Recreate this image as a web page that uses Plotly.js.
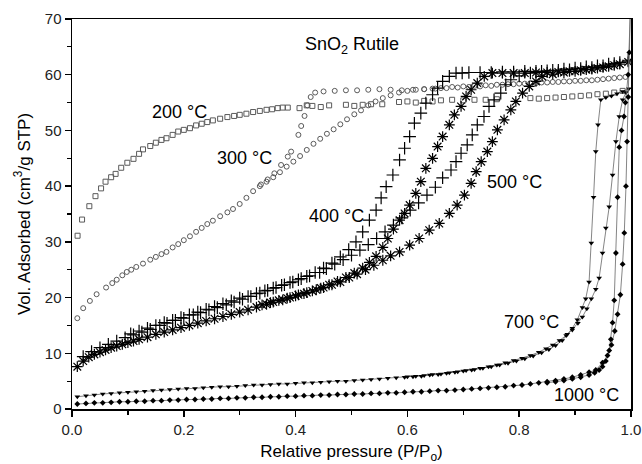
<!DOCTYPE html>
<html>
<head>
<meta charset="utf-8">
<script src="https://cdn.plot.ly/plotly-3.0.1.min.js"></script>
<style>html,body{margin:0;padding:0;background:#fff;}#chart{width:642px;height:464px;}</style>
</head>
<body>
<div id="chart"></div>
<script>
// ---- 200 °C (open squares) ----
const s200_x = [0.010,0.018,0.031,0.042,0.052,0.060,0.070,0.078,0.088,0.099,0.110,0.120,0.127,0.140,0.150,0.160,0.169,0.180,0.190,0.200,0.211,0.222,0.232,0.242,0.252,0.265,0.278,0.290,0.300,0.312,0.324,0.336,0.348,0.358,0.368,0.377,0.386,0.407,0.420,0.430,0.445,0.460,0.490,0.505,0.520,0.535,0.555,0.585,0.600,0.615,0.630,0.645,0.660,0.680,0.700,0.720,0.740,0.760,0.820,0.835,0.850,0.865,0.880,0.895,0.910,0.925,0.940,0.955,0.970,0.985];
const s200_y = [31.1,34.0,36.4,38.2,39.6,40.8,41.6,42.2,43.3,44.2,44.9,45.8,46.6,47.2,47.8,48.3,48.6,49.2,49.8,50.1,50.4,50.9,51.2,51.5,51.8,52.1,52.4,52.6,52.8,53.0,53.3,53.5,53.7,53.8,54.0,54.1,54.1,54.0,54.5,54.4,54.2,54.5,54.6,54.4,54.6,54.7,54.7,55.1,55.2,55.0,55.3,55.2,55.4,55.5,55.4,55.5,55.5,55.6,55.8,55.7,55.8,55.9,56.0,56.1,56.2,56.3,56.5,56.6,56.8,57.1];

// ---- 300 °C (open circles) ----
const s300_ads_x = [0.0095,0.020,0.032,0.044,0.061,0.072,0.080,0.090,0.098,0.106,0.115,0.127,0.140,0.150,0.160,0.169,0.180,0.190,0.200,0.211,0.222,0.232,0.242,0.252,0.265,0.278,0.288,0.300,0.312,0.324,0.336,0.348,0.360,0.372,0.384,0.396,0.408,0.420,0.432,0.444,0.456,0.468,0.480,0.492,0.505,0.517,0.530,0.543,0.556,0.570,0.585,0.600,0.615,0.630,0.645,0.660,0.680,0.700,0.720,0.740,0.760,0.780,0.800,0.820,0.840,0.860,0.880,0.900,0.920,0.940,0.960,0.980];
const s300_ads_y = [16.3,18.1,19.4,20.6,21.8,22.6,23.2,24.0,24.6,25.0,25.5,26.1,26.8,27.3,27.8,28.2,29.0,29.6,30.3,31.0,31.8,32.5,33.2,33.8,34.6,35.3,35.9,36.8,37.9,39.1,40.0,40.8,41.6,42.5,43.5,44.4,45.4,46.5,47.6,48.5,49.4,50.2,51.1,52.0,52.9,53.6,54.5,55.2,55.8,56.3,56.8,57.1,57.3,57.4,57.5,57.6,57.8,57.9,58.0,58.1,58.2,58.3,58.4,58.5,58.6,58.7,58.8,58.9,59.0,59.1,59.3,59.5];
const s300_des_x = [0.990,0.970,0.950,0.930,0.910,0.890,0.870,0.850,0.830,0.810,0.790,0.770,0.750,0.730,0.710,0.690,0.670,0.650,0.630,0.610,0.590,0.570,0.550,0.530,0.510,0.490,0.470,0.450,0.435,0.427,0.421,0.416,0.410,0.405,0.392,0.386,0.374,0.362,0.350,0.338];
const s300_des_y = [59.6,59.4,59.2,59.0,58.9,58.8,58.7,58.6,58.5,58.4,58.3,58.2,58.0,57.9,57.8,57.7,57.6,57.5,57.4,57.3,57.2,57.3,57.4,57.3,57.2,57.2,57.1,57.0,56.8,56.0,54.5,52.6,50.8,49.2,46.2,45.3,43.8,42.3,41.2,40.3];

// ---- 400 °C (plus) ----
const s400_ads_x = [0.020,0.035,0.050,0.065,0.080,0.095,0.110,0.125,0.140,0.157,0.170,0.185,0.200,0.217,0.230,0.245,0.260,0.276,0.290,0.305,0.320,0.336,0.350,0.365,0.380,0.395,0.410,0.425,0.443,0.455,0.470,0.485,0.500,0.515,0.530,0.545,0.560,0.575,0.590,0.605,0.620,0.635,0.650,0.663,0.678,0.687,0.696,0.707,0.716,0.725,0.737,0.746,0.755,0.767,0.776,0.785,0.800,0.820,0.840,0.860,0.880,0.900,0.920,0.940,0.960,0.980,0.995];
const s400_ads_y = [9.4,10.3,11.0,11.6,12.2,12.8,13.3,13.8,14.3,15.0,15.4,15.9,16.3,16.9,17.3,17.8,18.2,18.7,19.2,19.7,20.2,20.8,21.3,21.8,22.3,22.8,23.4,23.9,24.5,25.2,26.0,26.8,27.6,28.5,29.5,30.6,31.8,33.0,34.3,35.7,37.0,38.4,39.8,41.5,42.9,44.4,45.9,47.4,49.2,51.0,52.5,54.3,55.5,56.7,58.2,59.1,59.8,60.3,60.6,60.8,61.0,61.2,61.4,61.6,61.9,62.2,62.6];
const s400_des_x = [0.970,0.950,0.930,0.910,0.890,0.870,0.850,0.830,0.810,0.790,0.770,0.750,0.730,0.710,0.698,0.687,0.675,0.663,0.654,0.645,0.633,0.624,0.6125,0.604,0.595,0.586,0.574,0.562,0.553,0.544,0.532,0.520,0.508,0.495,0.480,0.465,0.450,0.435,0.420,0.405,0.390,0.375,0.360,0.345,0.330,0.315,0.300,0.285,0.270,0.255,0.240,0.225,0.210,0.195,0.180,0.165,0.150,0.135,0.120,0.105];
const s400_des_y = [62.0,61.6,61.3,61.1,60.9,60.8,60.7,60.6,60.6,60.5,60.5,60.4,60.4,60.4,60.3,60.3,59.7,58.8,57.6,56.4,54.9,53.1,51.3,48.9,46.8,44.7,42.0,39.9,37.9,35.7,33.9,31.8,30.0,28.6,27.3,26.2,25.3,24.5,23.8,23.2,22.7,22.2,21.7,21.2,20.7,20.2,19.9,19.4,18.9,18.4,17.9,17.4,16.9,16.4,15.9,15.5,15.0,14.5,14.0,13.5];

// ---- 500 °C (asterisks) ----
const s500_ads_x = [0.0095,0.020,0.030,0.040,0.050,0.060,0.070,0.080,0.090,0.100,0.110,0.120,0.135,0.150,0.165,0.180,0.195,0.210,0.225,0.240,0.255,0.270,0.285,0.300,0.315,0.330,0.348,0.360,0.377,0.390,0.405,0.420,0.437,0.450,0.465,0.480,0.496,0.510,0.525,0.540,0.556,0.570,0.586,0.604,0.621,0.639,0.657,0.675,0.689,0.702,0.714,0.723,0.732,0.743,0.752,0.761,0.773,0.785,0.794,0.806,0.818,0.830,0.841,0.860,0.880,0.900,0.920,0.940,0.960,0.980,0.995];
const s500_ads_y = [7.6,8.6,9.3,9.8,10.2,10.6,11.0,11.3,11.6,11.9,12.2,12.5,12.9,13.4,13.8,14.2,14.6,15.0,15.4,15.8,16.2,16.6,17.0,17.4,17.8,18.3,18.8,19.2,19.6,20.0,20.5,20.9,21.4,21.8,22.3,22.8,23.6,24.2,25.0,25.8,26.7,27.5,28.2,29.4,30.6,32.1,33.3,35.1,36.6,38.4,40.5,42.6,44.4,46.2,48.0,50.1,51.9,53.7,55.2,56.7,57.9,58.8,59.7,60.1,60.4,60.6,60.9,61.2,61.5,61.9,62.3];
const s500_des_x = [0.970,0.950,0.930,0.910,0.890,0.870,0.850,0.830,0.810,0.790,0.770,0.752,0.7375,0.725,0.714,0.705,0.696,0.684,0.675,0.663,0.654,0.645,0.633,0.624,0.615,0.604,0.595,0.586,0.575,0.565,0.556,0.544,0.532,0.520,0.505,0.490,0.475,0.460,0.445,0.430,0.415,0.400,0.385,0.370,0.355,0.340];
const s500_des_y = [61.7,61.3,61.0,60.8,60.6,60.5,60.4,60.4,60.3,60.3,60.3,60.3,59.7,58.5,57.3,56.1,54.3,52.8,51.0,48.9,47.1,45.0,43.2,40.8,38.7,36.6,35.1,33.9,32.3,30.6,29.0,27.4,26.3,25.3,24.4,23.6,22.9,22.3,21.7,21.2,20.7,20.3,19.9,19.5,19.1,18.7];

// ---- 700 °C (filled down-triangles, thin line) ----
const s700_ads_x = [0.0095,0.025,0.040,0.055,0.070,0.085,0.100,0.115,0.130,0.145,0.160,0.175,0.190,0.205,0.220,0.235,0.250,0.265,0.280,0.295,0.310,0.325,0.340,0.355,0.370,0.385,0.400,0.415,0.430,0.445,0.460,0.475,0.490,0.505,0.520,0.535,0.550,0.565,0.580,0.595,0.610,0.625,0.640,0.655,0.670,0.685,0.700,0.715,0.730,0.745,0.760,0.775,0.790,0.805,0.820,0.835,0.848,0.860,0.872,0.884,0.895,0.905,0.913,0.921,0.929,0.937,0.943,0.949,0.955,0.961,0.967,0.973,0.979,0.985,0.991,0.996];
const s700_ads_y = [2.2,2.4,2.5,2.7,2.8,2.9,3.0,3.1,3.2,3.3,3.4,3.5,3.6,3.7,3.7,3.8,3.9,4.0,4.0,4.1,4.2,4.3,4.3,4.4,4.5,4.5,4.6,4.7,4.7,4.8,4.9,5.0,5.0,5.1,5.2,5.3,5.4,5.5,5.6,5.7,5.8,5.9,6.1,6.2,6.4,6.6,6.8,7.0,7.3,7.6,7.9,8.3,8.7,9.1,9.6,10.2,10.8,11.5,12.3,13.2,14.2,15.4,16.5,18.0,19.8,21.5,23.5,28.0,32.5,36.3,42.0,48.0,52.5,55.5,56.8,57.5];
const s700_des_x = [0.985,0.975,0.965,0.955,0.946,0.941,0.937,0.933,0.929,0.925,0.919,0.913,0.904,0.895,0.886,0.877,0.865,0.853,0.840,0.825,0.810,0.795,0.780,0.765,0.750,0.735,0.720,0.705,0.690,0.675,0.660,0.645,0.630,0.615,0.600];
const s700_des_y = [57.0,56.6,56.2,55.9,55.5,51.0,46.2,38.0,29.8,22.8,19.8,18.2,16.0,14.5,13.4,12.3,11.4,10.7,10.1,9.5,9.0,8.6,8.2,7.9,7.6,7.3,7.1,6.9,6.7,6.5,6.3,6.2,6.0,5.9,5.8];

// ---- 1000 °C (filled diamonds, thin line) ----
const s1000_ads_x = [0.0095,0.025,0.040,0.055,0.070,0.085,0.100,0.115,0.130,0.145,0.160,0.175,0.190,0.205,0.220,0.235,0.250,0.265,0.280,0.295,0.310,0.325,0.340,0.355,0.370,0.385,0.400,0.415,0.430,0.445,0.460,0.475,0.490,0.505,0.520,0.535,0.550,0.565,0.580,0.595,0.610,0.625,0.640,0.655,0.670,0.685,0.700,0.715,0.730,0.745,0.760,0.775,0.790,0.805,0.820,0.835,0.850,0.865,0.880,0.895,0.910,0.925,0.937,0.949,0.958,0.965,0.971,0.976,0.981,0.985,0.988,0.991,0.993,0.995,0.997,0.999];
const s1000_ads_y = [0.9,1.0,1.1,1.1,1.2,1.3,1.3,1.4,1.4,1.5,1.5,1.6,1.6,1.7,1.7,1.8,1.8,1.9,1.9,2.0,2.0,2.1,2.1,2.2,2.2,2.3,2.3,2.4,2.4,2.5,2.5,2.6,2.6,2.7,2.7,2.8,2.8,2.9,2.9,3.0,3.1,3.1,3.2,3.3,3.3,3.4,3.5,3.6,3.7,3.8,3.9,4.0,4.2,4.3,4.5,4.7,4.9,5.1,5.4,5.7,6.1,6.6,7.0,8.3,9.6,11.5,14.0,17.0,20.5,26.0,31.6,40.0,48.0,56.0,64.0,72.0];
const s1000_des_x = [0.995,0.990,0.9875,0.983,0.979,0.976,0.973,0.970,0.967,0.964,0.961,0.955,0.949,0.943,0.935,0.925,0.910,0.895,0.880,0.865,0.850];
const s1000_des_y = [60.0,55.0,52.5,50.0,47.0,38.0,28.0,19.5,15.5,12.5,10.5,8.6,7.6,7.0,6.5,6.1,5.7,5.4,5.1,4.9,4.7];

// ---- axis / labels ----
const xTicks = [0, 0.2, 0.4, 0.6, 0.8, 1.0];
const xTickText = ['0.0','0.2','0.4','0.6','0.8','1.0'];
const yTicks = [0,10,20,30,40,50,60,70];
const seriesLabels = ['200 °C','300 °C','400 °C','500 °C','700 °C','1000 °C'];
const labelX = [0.193, 0.309, 0.473, 0.791, 0.822, 0.920];
const labelY = [53.3, 45.0, 34.6, 40.7, 15.7, 2.6];

const FONT = 'Liberation Sans, Arial, sans-serif';
const grayOpen = '#5a5a5a';

const traces = [
  {x: s200_x, y: s200_y, mode:'markers', type:'scatter',
   marker:{symbol:'square-open', size:5, color:grayOpen, line:{width:1, color:grayOpen}}},
  {x: s300_ads_x.concat(s300_des_x), y: s300_ads_y.concat(s300_des_y), mode:'markers', type:'scatter',
   marker:{symbol:'circle-open', size:5, color:grayOpen, line:{width:1, color:grayOpen}}},
  {x: s400_ads_x.concat(s400_des_x), y: s400_ads_y.concat(s400_des_y), mode:'markers', type:'scatter',
   marker:{symbol:'cross-thin-open', size:9, color:'#000', line:{width:1.2, color:'#000'}}},
  {x: s500_ads_x.concat(s500_des_x), y: s500_ads_y.concat(s500_des_y), mode:'markers', type:'scatter',
   marker:{symbol:'asterisk-open', size:9, color:'#000', line:{width:1.2, color:'#000'}}},
  {x: s700_ads_x.concat(s700_des_x), y: s700_ads_y.concat(s700_des_y), mode:'lines+markers', type:'scatter',
   line:{color:'#666', width:0.8},
   marker:{symbol:'triangle-down', size:5, color:'#000', line:{width:0}}},
  {x: s1000_ads_x.concat(s1000_des_x), y: s1000_ads_y.concat(s1000_des_y), mode:'lines+markers', type:'scatter',
   line:{color:'#666', width:0.8},
   marker:{symbol:'diamond', size:4.5, color:'#000', line:{width:0}}}
];

const annotations = seriesLabels.map((t,i)=>({
  x: labelX[i], y: labelY[i], xref:'x', yref:'y', text: t, showarrow:false,
  xanchor:'center', yanchor:'middle', font:{family:FONT, size:18, color:'#000'}
}));
annotations.push({x:0.5, y:65.2, xref:'x', yref:'y', text:'SnO<sub>2</sub> Rutile', showarrow:false,
  xanchor:'center', yanchor:'middle', font:{family:FONT, size:18, color:'#000'}});

const layout = {
  width:642, height:464,
  margin:{l:72, r:11, t:19, b:55},
  paper_bgcolor:'#fff', plot_bgcolor:'#fff',
  showlegend:false,
  font:{family:FONT, color:'#000'},
  xaxis:{
    range:[0,1], tickvals:xTicks, ticktext:xTickText,
    ticks:'outside', ticklen:6, tickwidth:1.5, tickcolor:'#000',
    minor:{tickvals:[0.1,0.3,0.5,0.7,0.9], ticks:'outside', ticklen:4, tickwidth:1.2, tickcolor:'#000', showgrid:false},
    showline:true, linecolor:'#000', linewidth:1.5, mirror:true,
    showgrid:false, zeroline:false,
    tickfont:{family:FONT, size:15, color:'#222'},
    title:{text:'Relative pressure (P/P<sub>o</sub>)', font:{family:FONT, size:17, color:'#000'}, standoff:19}
  },
  yaxis:{
    range:[0,70], tickvals:yTicks,
    ticks:'outside', ticklen:6, tickwidth:1.5, tickcolor:'#000',
    minor:{tickvals:[5,15,25,35,45,55,65], ticks:'outside', ticklen:4, tickwidth:1.2, tickcolor:'#000', showgrid:false},
    showline:true, linecolor:'#000', linewidth:1.5, mirror:true,
    showgrid:false, zeroline:false,
    tickfont:{family:FONT, size:15, color:'#222'},
    title:{text:'Vol. Adsorbed (cm<sup>3</sup>/g STP)', font:{family:FONT, size:17, color:'#000'}, standoff:10}
  },
  annotations: annotations
};

Plotly.newPlot('chart', traces, layout, {staticPlot:true, displayModeBar:false});
</script>
</body>
</html>
